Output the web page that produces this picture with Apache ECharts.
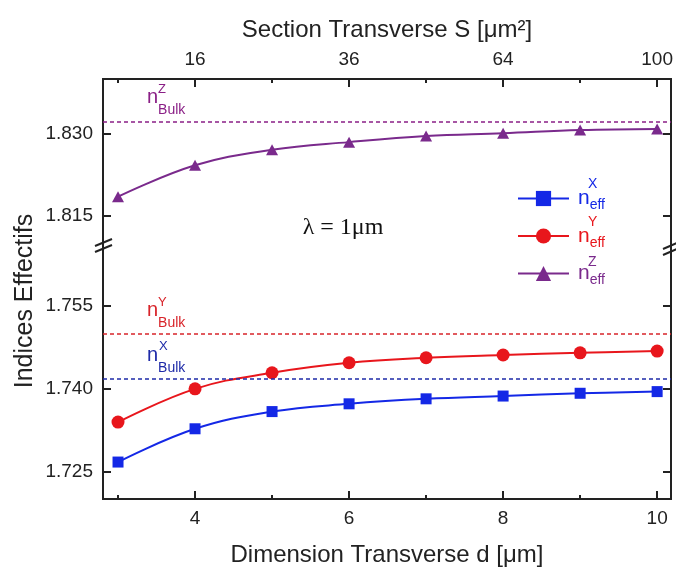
<!DOCTYPE html>
<html><head><meta charset="utf-8">
<script src="https://cdn.jsdelivr.net/npm/echarts@6/dist/echarts.min.js"></script>
<style>html,body{margin:0;padding:0;background:#fff}#c{width:676px;height:573px}</style>
</head><body><div id="c"></div>
<script>
const dValues = [3, 4, 5, 6, 7, 8, 9, 10];
const nEffX = [1.7268, 1.7328, 1.7359, 1.7373, 1.7382, 1.7387, 1.7392, 1.7395];
const nEffY = [1.7340, 1.7400, 1.7429, 1.7447, 1.7456, 1.7461, 1.7465, 1.7468];
const nEffZ = [1.8185, 1.8242, 1.8270, 1.8284, 1.8295, 1.8300, 1.8306, 1.8308];
const bulkX = 1.7418, bulkY = 1.7500, bulkZ = 1.8321;
const xTicksMajor = [4, 6, 8, 10];
const xTicksMinor = [3, 5, 7, 9];
const yTicksUpper = [1.815, 1.830];
const yTicksLower = [1.725, 1.740, 1.755];
const seriesNames = ['nX', 'nY', 'nZ'];
const supLetters = ['X', 'Y', 'Z'];

const cX = '#1428e6', cY = '#e8161c', cZ = '#7a2a8c';
const cBulkX = '#1e2aa8', cBulkY = '#d8242a', cBulkZ = '#8a1f86';
const FONT = '"Liberation Sans", Arial, sans-serif';
const AX = '#222';

function pairs(vals) { return dValues.map((d, i) => [d, vals[i]]); }

function legendRich(color) {
  return {
    n: { fontSize: 21, lineHeight: 28, color: color, fontFamily: FONT, padding: [0, 0, 0, 4] },
    sub: { fontSize: 14, lineHeight: 28, color: color, fontFamily: FONT, verticalAlign: 'bottom' }
  };
}
function bulkRich(color) {
  return {
    n: { fontSize: 20, lineHeight: 38, fill: color, fontFamily: FONT },
    sub: { fontSize: 14, lineHeight: 38, fill: color, fontFamily: FONT, verticalAlign: 'bottom' }
  };
}

const grid0 = { left: 103, right: 5, top: 79, height: 167 };
const grid1 = { left: 103, right: 5, top: 246, bottom: 74 };
const xMin = 2.805, xMax = 10.18;

function xAx(gridIndex, pos, ticks, len, labels, formatter, name, nameGap) {
  return {
    type: 'value', gridIndex: gridIndex, position: pos, min: xMin, max: xMax,
    axisLine: { show: true, onZero: false, lineStyle: { color: AX, width: 2 } },
    axisTick: { show: true, inside: true, length: len, customValues: ticks, lineStyle: { color: AX, width: 2 } },
    axisLabel: { show: !!labels, customValues: labels || [], margin: 10, fontSize: 19, color: '#222', fontFamily: FONT, formatter: formatter },
    splitLine: { show: false },
    name: name || '', nameLocation: 'middle', nameGap: nameGap || 0,
    nameTextStyle: { fontSize: 24, color: '#222', fontFamily: FONT }
  };
}
function yAx(gridIndex, pos, min, max, ticks, showLabels) {
  return {
    type: 'value', gridIndex: gridIndex, position: pos, min: min, max: max,
    axisLine: { show: true, onZero: false, lineStyle: { color: AX, width: 2 } },
    axisTick: { show: true, inside: true, length: 8, customValues: ticks, lineStyle: { color: AX, width: 2 } },
    axisLabel: { show: showLabels, customValues: ticks, margin: 10, fontSize: 19, color: '#222', fontFamily: FONT, formatter: v => v.toFixed(3) },
    splitLine: { show: false }
  };
}
function bulkLine(color, value) {
  return { silent: true, symbol: 'none', precision: 6, label: { show: false },
    lineStyle: { color: color, type: [4, 3], width: 1.5 }, data: [{ yAxis: value }] };
}

const legendColors = [cX, cY, cZ];
const option = {
  animation: false,
  backgroundColor: '#fff',
  grid: [grid0, grid1],
  xAxis: [
    xAx(0, 'top', xTicksMajor, 8, xTicksMajor, v => String(Math.round(v * v)), 'Section Transverse S [μm²]', 37),
    xAx(0, 'top', xTicksMinor, 4, null),
    xAx(1, 'bottom', xTicksMajor, 8, xTicksMajor, v => String(v), 'Dimension Transverse d [μm]', 44),
    xAx(1, 'bottom', xTicksMinor, 4, null)
  ],
  yAxis: [
    yAx(0, 'left', 1.80956, 1.83985, yTicksUpper, true),
    yAx(0, 'right', 1.80956, 1.83985, yTicksUpper, false),
    yAx(1, 'left', 1.72014, 1.76575, yTicksLower, true),
    yAx(1, 'right', 1.72014, 1.76575, yTicksLower, false)
  ],
  legend: {
    orient: 'vertical', left: 517, top: 188, padding: 0, itemGap: 13, itemWidth: 51, itemHeight: 19,
    formatter: () => '{n|n}{sub|eff}',
    data: seriesNames.map((nm, i) => ({ name: nm, textStyle: { rich: legendRich(legendColors[i]) } }))
  },
  series: [
    {
      name: 'nX', type: 'line', xAxisIndex: 2, yAxisIndex: 2, data: pairs(nEffX), smooth: 0.4,
      symbol: 'rect', symbolSize: 11, itemStyle: { color: cX }, lineStyle: { color: cX, width: 2 },
      markLine: bulkLine(cBulkX, bulkX)
    },
    {
      name: 'nY', type: 'line', xAxisIndex: 2, yAxisIndex: 2, data: pairs(nEffY), smooth: 0.4,
      symbol: 'circle', symbolSize: 13, itemStyle: { color: cY }, lineStyle: { color: cY, width: 2 },
      markLine: bulkLine(cBulkY, bulkY)
    },
    {
      name: 'nZ', type: 'line', xAxisIndex: 0, yAxisIndex: 0, data: pairs(nEffZ), smooth: 0.4,
      symbol: 'triangle', symbolSize: [12, 11], itemStyle: { color: cZ }, lineStyle: { color: cZ, width: 2 },
      markLine: bulkLine(cBulkZ, bulkZ)
    }
  ],
  graphic: [
    { type: 'text', x: 25, y: 301, rotation: Math.PI / 2, style: { text: 'Indices Effectifs', fontSize: 25, fill: '#222', fontFamily: FONT, align: 'center', verticalAlign: 'middle' } },
    { type: 'text', x: 343, y: 228, style: { text: 'λ = 1μm', fontSize: 24, fill: '#111', fontFamily: '"Liberation Serif", "DejaVu Serif", serif', align: 'center', verticalAlign: 'middle' } },
    // bulk labels
    { type: 'text', x: 147, y: 97.7, style: { text: '{n|n}{sub|Bulk}', rich: bulkRich(cBulkZ), verticalAlign: 'middle' } },
    { type: 'text', x: 158, y: 89.5, style: { text: 'Z', fontSize: 13, fill: cBulkZ, fontFamily: FONT, verticalAlign: 'middle' } },
    { type: 'text', x: 147, y: 310.7, style: { text: '{n|n}{sub|Bulk}', rich: bulkRich(cBulkY), verticalAlign: 'middle' } },
    { type: 'text', x: 158, y: 302.5, style: { text: 'Y', fontSize: 13, fill: cBulkY, fontFamily: FONT, verticalAlign: 'middle' } },
    { type: 'text', x: 147, y: 355.7, style: { text: '{n|n}{sub|Bulk}', rich: bulkRich(cBulkX), verticalAlign: 'middle' } },
    { type: 'text', x: 159, y: 346, style: { text: 'X', fontSize: 13, fill: cBulkX, fontFamily: FONT, verticalAlign: 'middle' } },
    // legend superscripts
    { type: 'text', x: 588, y: 184, style: { text: supLetters[0], fontSize: 14, fill: cX, fontFamily: FONT, verticalAlign: 'middle' } },
    { type: 'text', x: 588, y: 222.5, style: { text: supLetters[1], fontSize: 14, fill: cY, fontFamily: FONT, verticalAlign: 'middle' } },
    { type: 'text', x: 588, y: 262, style: { text: supLetters[2], fontSize: 14, fill: cZ, fontFamily: FONT, verticalAlign: 'middle' } },
    // axis break marks
    { type: 'polygon', shape: { points: [[95, 246], [112, 239], [112, 245], [95, 252]] }, style: { fill: '#fff' } },
    { type: 'line', shape: { x1: 95, y1: 246, x2: 112, y2: 239 }, style: { stroke: AX, lineWidth: 2 } },
    { type: 'line', shape: { x1: 95, y1: 252, x2: 112, y2: 245 }, style: { stroke: AX, lineWidth: 2 } },
    { type: 'polygon', shape: { points: [[663, 249], [679, 242], [679, 248], [663, 255]] }, style: { fill: '#fff' } },
    { type: 'line', shape: { x1: 663, y1: 249, x2: 679, y2: 242 }, style: { stroke: AX, lineWidth: 2 } },
    { type: 'line', shape: { x1: 663, y1: 255, x2: 679, y2: 248 }, style: { stroke: AX, lineWidth: 2 } }
  ]
};

const chart = echarts.init(document.getElementById('c'), null, { renderer: 'canvas' });
chart.setOption(option);
</script>
</body></html>
